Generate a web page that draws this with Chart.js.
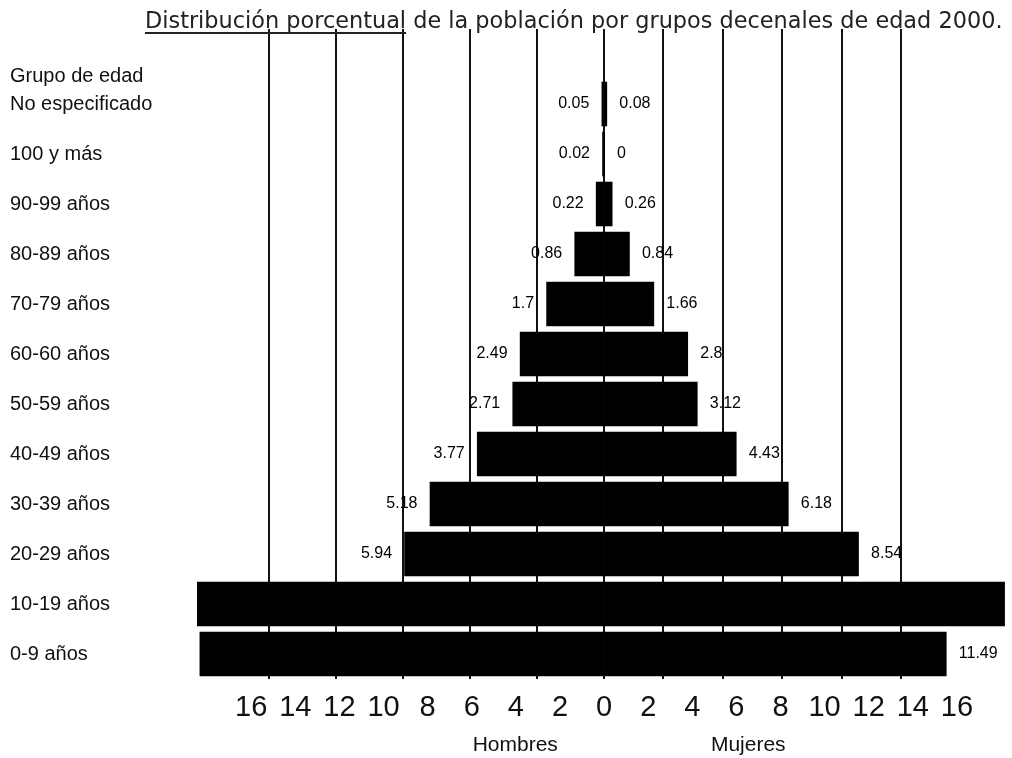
<!DOCTYPE html>
<html>
<head>
<meta charset="utf-8">
<script src="https://cdn.jsdelivr.net/npm/chart.js@4"></script>
<style>
body{margin:0;background:#fff;}
#wrap{width:1012px;height:758px;}
</style>
</head>
<body>
<div id="wrap"><canvas id="piramide"></canvas></div>
<script>
// grupos de edad, de arriba hacia abajo (la primera fila queda en blanco)
const grupos=['','No especificado','100 y más','90-99 años','80-89 años','70-79 años','60-60 años','50-59 años','40-49 años','30-39 años','20-29 años','10-19 años','0-9 años'];
const hombres=[null,0.05,0.02,0.22,0.86,1.7,2.49,2.71,3.77,5.18,5.94,12.15,12.05];
const mujeres=[null,0.08,0,0.26,0.84,1.66,2.8,3.12,4.43,6.18,8.54,13.45,11.49];
// textos que aparecen junto a cada barra ('' = sin texto en el original)
const textoHombres=['','0.05','0.02','0.22','0.86','1.7','2.49','2.71','3.77','5.18','5.94','',''];
const textoMujeres=['','0.08','0','0.26','0.84','1.66','2.8','3.12','4.43','6.18','8.54','','11.49'];
const etiquetasEje=['16','14','12','10','8','6','4','2','0','2','4','6','8','10','12','14','16'];
const tituloSub='Distribución porcentual';
const tituloResto=' de la población por grupos decenales de edad 2000.';

const fuente="'Liberation Sans', Arial, sans-serif";

const textos={
    id:'textos',
    afterDraw(chart){
        const ctx=chart.ctx;
        ctx.save();
        // titulo
        ctx.font="22.4px 'DejaVu Sans', sans-serif";
        ctx.fillStyle='#222';
        ctx.textBaseline='alphabetic';
        ctx.textAlign='left';
        const x0=145;
        ctx.fillText(tituloSub,x0,28);
        const w1=ctx.measureText(tituloSub).width;
        ctx.fillText(tituloResto,x0+w1,28);
        ctx.fillRect(x0,32,w1,2);
        // encabezado del eje de grupos
        ctx.font='20px '+fuente;
        ctx.fillStyle='#111';
        ctx.textBaseline='middle';
        ctx.fillText('Grupo de edad',10,76);
        // hombres / mujeres
        const sh=chart.scales.xH, sm=chart.scales.xM;
        ctx.font='21px '+fuente;
        ctx.textAlign='center';
        ctx.fillText('Hombres',sh.getPixelForValue(2.65),745);
        ctx.fillText('Mujeres',sm.getPixelForValue(4.85),745);
        // valores junto a las barras
        ctx.font='16px '+fuente;
        ctx.fillStyle='#000';
        const metaH=chart.getDatasetMeta(0), metaM=chart.getDatasetMeta(1);
        metaH.data.forEach((el,i)=>{
            if(!textoHombres[i]) return;
            ctx.textAlign='right';
            ctx.fillText(textoHombres[i],Math.min(el.x,el.base)-13,el.y);
        });
        metaM.data.forEach((el,i)=>{
            if(!textoMujeres[i]) return;
            ctx.textAlign='left';
            ctx.fillText(textoMujeres[i],Math.max(el.x,el.base)+13,el.y);
        });
        ctx.restore();
    }
};

function lineaSi(lista){
    return (c)=> lista.includes(c.tick.value) ? '#111' : 'rgba(0,0,0,0)';
}

new Chart(document.getElementById('piramide'),{
    type:'bar',
    data:{
        labels:grupos,
        datasets:[
            {label:'Hombres',data:hombres,xAxisID:'xH',backgroundColor:'#000',borderWidth:0,inflateAmount:0.8,grouped:false,barPercentage:0.86,categoryPercentage:1},
            {label:'Mujeres',data:mujeres,xAxisID:'xM',backgroundColor:'#000',borderWidth:0,inflateAmount:0.8,grouped:false,barPercentage:0.86,categoryPercentage:1}
        ]
    },
    options:{
        indexAxis:'y',
        responsive:true,
        maintainAspectRatio:false,
        animation:false,
        layout:{padding:{left:10,right:7,top:29,bottom:0}},
        plugins:{legend:{display:false},tooltip:{enabled:false}},
        scales:{
            y:{
                grid:{display:false},
                border:{display:false},
                ticks:{crossAlign:'far',color:'#111',font:{family:fuente,size:20},padding:0},
                afterFit(s){ s.width=187; }
            },
            xH:{
                type:'linear',position:'bottom',reverse:true,min:-11.97,max:12.15,
                ticks:{display:false,stepSize:2},
                grid:{drawTicks:false,lineWidth:2,color:lineaSi([0,2,4,6,8,10])},
                border:{display:false},
                afterFit(s){ s.height=0; }
            },
            xM:{
                type:'linear',position:'bottom',min:-13.68,max:13.48,
                ticks:{display:false,stepSize:2},
                grid:{drawTicks:false,lineWidth:2,color:lineaSi([2,4,6,8,10,12])},
                border:{display:false},
                afterFit(s){ s.height=0; }
            },
            xE:{
                type:'linear',position:'bottom',min:-9.23,max:9.09,
                grid:{display:false},
                border:{display:false},
                ticks:{stepSize:1,autoSkip:false,maxRotation:0,padding:4,color:'#111',
                    font:{family:fuente,size:29},
                    callback:(v)=> etiquetasEje[v+8] ?? ''},
                afterFit(s){ s.height=79; }
            }
        }
    },
    plugins:[textos]
});
</script>
</body>
</html>
